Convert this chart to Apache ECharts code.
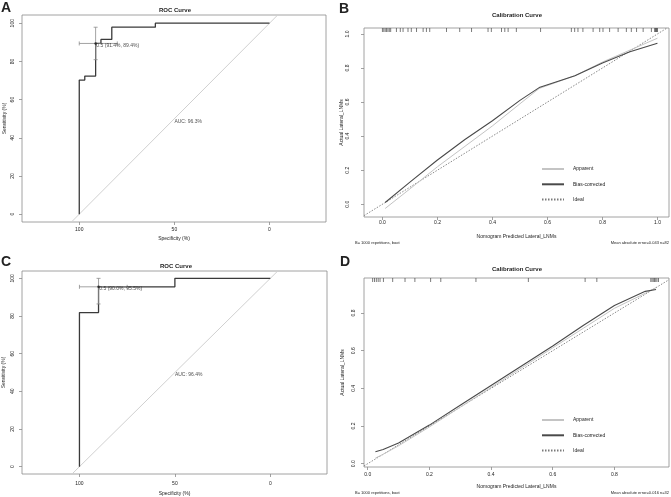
<!DOCTYPE html>
<html><head><meta charset="utf-8">
<script src="https://cdn.jsdelivr.net/npm/echarts@6/dist/echarts.min.js"></script>
<style>html,body{margin:0;padding:0;background:#fff}#c{width:671px;height:497px}</style>
</head><body><div id="c"></div>
<script>
// ---------- DATA ----------
// Panel A ROC (specificity %, sensitivity %)
const rocA_spec = [100, 100, 97.1, 97.1, 91.4, 91.4, 88.6, 88.6, 82.9, 82.9, 60, 60, 0];
const rocA_sens = [0, 70.2, 70.2, 72.3, 72.3, 89.4, 89.4, 91.5, 91.5, 97.9, 97.9, 100, 100];
const thrA = [91.4, 89.4];          // threshold point (spec, sens)
const thrA_specCI = [80, 100];
const thrA_sensCI = [80.9, 97.9];
const thrA_label = '0.5 (91.4%, 89.4%)';
const aucA_label = 'AUC: 96.3%';

// Panel C ROC
const rocC_spec = [100, 100, 90, 90, 50, 50, 0];
const rocC_sens = [0, 81.8, 81.8, 95.5, 95.5, 100, 100];
const thrC = [90, 95.5];
const thrC_specCI = [75, 100];
const thrC_sensCI = [86.4, 100];
const thrC_label = '0.5 (90.0%, 95.5%)';
const aucC_label = 'AUC: 96.4%';

const rocTicksX = [0, 50, 100];
const rocTicksY = [0, 20, 40, 60, 80, 100];

// Panel B calibration
const calB_x        = [0.01, 0.1, 0.2, 0.3, 0.4, 0.5, 0.57, 0.7, 0.8, 0.9, 1.0];
const calB_apparent = [-0.025, 0.09, 0.22, 0.34, 0.46, 0.59, 0.68, 0.755, 0.835, 0.905, 0.975];
const calB_bias     = [0.01, 0.13, 0.26, 0.38, 0.49, 0.61, 0.685, 0.755, 0.83, 0.895, 0.945];
const rugB = [0.0, 0.005, 0.01, 0.015, 0.02, 0.025, 0.03, 0.051, 0.065, 0.075, 0.093, 0.105, 0.124, 0.148, 0.16, 0.172,
  0.233, 0.281, 0.324, 0.384, 0.396, 0.433, 0.445, 0.457, 0.487, 0.575, 0.687, 0.699, 0.711, 0.729, 0.766, 0.79,
  0.802, 0.826, 0.857, 0.887, 0.905, 0.924, 0.948, 0.978, 0.99, 0.992, 0.994, 0.996, 0.998, 1.0];
const calTicksB = [0, 0.2, 0.4, 0.6, 0.8, 1.0];
const subB_left = 'B= 1000 repetitions, boot';
const subB_right = 'Mean absolute error=0.043 n=82';

// Panel D calibration
const calD_x        = [0.025, 0.05, 0.1, 0.2, 0.3, 0.4, 0.5, 0.6, 0.7, 0.8, 0.9, 0.935];
const calD_apparent = [0.03, 0.05, 0.095, 0.195, 0.3, 0.405, 0.51, 0.615, 0.72, 0.825, 0.905, 0.935];
const calD_bias     = [0.063, 0.075, 0.11, 0.205, 0.31, 0.415, 0.52, 0.625, 0.735, 0.84, 0.915, 0.925];
const rugD = [0.016, 0.022, 0.028, 0.034, 0.04, 0.051, 0.081, 0.121, 0.153, 0.204, 0.237, 0.351, 0.521, 0.705, 0.743,
  0.918, 0.922, 0.926, 0.93, 0.934, 0.938, 0.943];
const calTicksD = [0, 0.2, 0.4, 0.6, 0.8];
const subD_left = 'B= 1000 repetitions, boot';
const subD_right = 'Mean absolute error=0.016 n=32';

const legendNames = ['Apparent', 'Bias-corrected', 'Ideal'];

// ---------- CHART ----------
const FONT = '"Liberation Sans", Arial, Helvetica, sans-serif';
const TXT = '#222';
const BOX = '#8a8a8a';
const zip = (a, b) => a.map((v, i) => [v, b[i]]);

const rocX = { min: -29.7, max: 130.1 };
const rocYA = { min: -4.1, max: 104.3 };
const rocYC = { min: -3.9, max: 103.9 };
const calXB = { min: -0.067, max: 1.042 }, calYB = { min: -0.075, max: 1.035 };
const calXD = { min: -0.012, max: 0.977 }, calYD = { min: -0.0175, max: 0.986 };

function xAx(grid, rng, ticks, inverse, name, margin, nameGap, fmt) {
  return {
    gridIndex: grid, type: 'value', min: rng.min, max: rng.max, inverse: inverse, position: 'bottom',
    axisLine: { show: false, onZero: false }, splitLine: { show: false },
    axisTick: { show: true, customValues: ticks, length: 3, lineStyle: { color: BOX, width: 0.8 } },
    axisLabel: { customValues: ticks, fontSize: 5, fontFamily: FONT, color: TXT, margin: margin, formatter: fmt },
    name: name, nameLocation: 'middle', nameGap: nameGap,
    nameTextStyle: { fontSize: 5, fontFamily: FONT, color: TXT }
  };
}
function yAx(grid, rng, ticks, name, margin, nameGap, fmt) {
  return {
    gridIndex: grid, type: 'value', min: rng.min, max: rng.max, position: 'left',
    axisLine: { show: false, onZero: false }, splitLine: { show: false },
    axisTick: { show: true, customValues: ticks, length: 3, lineStyle: { color: BOX, width: 0.8 } },
    axisLabel: { customValues: ticks, fontSize: 5, fontFamily: FONT, color: TXT, margin: margin, rotate: 90,
      align: 'center', verticalAlign: 'bottom', formatter: fmt },
    name: name, nameLocation: 'middle', nameGap: nameGap, nameRotate: 90,
    nameTextStyle: { fontSize: 5, fontFamily: FONT, color: TXT }
  };
}
const f1 = v => Number(v).toFixed(1);
const f0 = v => String(Math.round(v));

function rocSeries(idx, spec, sens, thr, specCI, sensCI, thrLabel, aucLabel, xr, yr) {
  const diagLo = Math.min(xr.max, 100 - yr.min);
  const diagHi = Math.max(xr.min, 100 - yr.max);
  return [
    { type: 'line', xAxisIndex: idx, yAxisIndex: idx, silent: true, symbol: 'none',
      data: [[diagLo, 100 - diagLo], [diagHi, 100 - diagHi]],
      lineStyle: { color: '#d0d0d0', width: 1 }, z: 1 },
    { type: 'line', xAxisIndex: idx, yAxisIndex: idx, silent: true, symbol: 'none',
      data: zip(spec, sens), lineStyle: { color: '#3a3a3a', width: 1.3 }, z: 3 },
    { type: 'custom', xAxisIndex: idx, yAxisIndex: idx, silent: true, z: 4,
      data: [[thr[0], thr[1], specCI[0], specCI[1], sensCI[0], sensCI[1]]],
      renderItem: function (params, api) {
        const c = api.coord([api.value(0), api.value(1)]);
        const xl = api.coord([api.value(2), api.value(1)]);
        const xh = api.coord([api.value(3), api.value(1)]);
        const yl = api.coord([api.value(0), api.value(4)]);
        const yh = api.coord([api.value(0), api.value(5)]);
        const st = { stroke: '#8c8c8c', lineWidth: 0.8 };
        const cap = 2;
        return { type: 'group', children: [
          { type: 'line', shape: { x1: xl[0], y1: c[1], x2: xh[0], y2: c[1] }, style: st },
          { type: 'line', shape: { x1: xl[0], y1: c[1] - cap, x2: xl[0], y2: c[1] + cap }, style: st },
          { type: 'line', shape: { x1: xh[0], y1: c[1] - cap, x2: xh[0], y2: c[1] + cap }, style: st },
          { type: 'line', shape: { x1: c[0], y1: yl[1], x2: c[0], y2: yh[1] }, style: st },
          { type: 'line', shape: { x1: c[0] - cap, y1: yl[1], x2: c[0] + cap, y2: yl[1] }, style: st },
          { type: 'line', shape: { x1: c[0] - cap, y1: yh[1], x2: c[0] + cap, y2: yh[1] }, style: st }
        ]};
      } },
    { type: 'scatter', xAxisIndex: idx, yAxisIndex: idx, silent: true, z: 5,
      data: [thr], symbolSize: 2.5, itemStyle: { color: '#111' },
      label: { show: true, formatter: thrLabel, position: [2, 3.5], align: 'left', verticalAlign: 'middle',
        fontSize: 5, fontFamily: FONT, color: TXT } },
    { type: 'scatter', xAxisIndex: idx, yAxisIndex: idx, silent: true, z: 5,
      data: [[50, 50]], symbolSize: 0,
      label: { show: true, formatter: aucLabel, position: [0, 0], align: 'left', verticalAlign: 'top',
        fontSize: 5, fontFamily: FONT, color: TXT } }
  ];
}

function calSeries(idx, xs, app, bias, rug, xr, yr) {
  const lo = Math.max(xr.min, yr.min), hi = Math.min(xr.max, yr.max);
  return [
    { name: 'Apparent', type: 'line', xAxisIndex: idx, yAxisIndex: idx, silent: true, symbol: 'none',
      data: zip(xs, app), lineStyle: { color: '#c4c4c4', width: 1 }, itemStyle: { color: '#c4c4c4' }, z: 2 },
    { name: 'Bias-corrected', type: 'line', xAxisIndex: idx, yAxisIndex: idx, silent: true, symbol: 'none',
      data: zip(xs, bias), lineStyle: { color: '#4a4a4a', width: 1.1 }, itemStyle: { color: '#4a4a4a' }, z: 3 },
    { name: 'Ideal', type: 'line', xAxisIndex: idx, yAxisIndex: idx, silent: true, symbol: 'none',
      data: [[lo, lo], [hi, hi]], lineStyle: { color: '#7a7a7a', width: 0.9, type: [1.5, 1.5] },
      itemStyle: { color: '#7a7a7a' }, z: 1 },
    { type: 'custom', xAxisIndex: idx, yAxisIndex: idx, silent: true, z: 4,
      data: rug.map(v => [v, yr.max]),
      renderItem: function (params, api) {
        const p = api.coord([api.value(0), api.value(1)]);
        return { type: 'line', shape: { x1: p[0], y1: p[1], x2: p[0], y2: p[1] + 4 },
          style: { stroke: '#444', lineWidth: 0.7 } };
      } }
  ];
}

function txt(x, y, s, size, bold, align) {
  return { type: 'text', x: x, y: y, silent: true,
    style: { text: s, fill: TXT, font: (bold ? 'bold ' : '') + size + 'px ' + FONT,
      align: align || 'center', verticalAlign: 'middle' } };
}

const legendBase = { data: legendNames, orient: 'vertical', left: 541, padding: 0, itemWidth: 22, itemHeight: 6, itemGap: 10.3,
  selectedMode: false, itemStyle: { opacity: 0 },
  textStyle: { fontSize: 5, fontFamily: FONT, color: TXT, padding: [0, 0, 0, 4] } };

const option = {
  animation: false,
  backgroundColor: '#fff',
  grid: [
    { left: 22, top: 15, width: 304, height: 207, show: true, borderColor: BOX, borderWidth: 0.8, backgroundColor: 'transparent' },
    { left: 364, top: 28, width: 305, height: 189, show: true, borderColor: BOX, borderWidth: 0.8, backgroundColor: 'transparent' },
    { left: 22, top: 271, width: 305, height: 204, show: true, borderColor: BOX, borderWidth: 0.8, backgroundColor: 'transparent' },
    { left: 364, top: 278, width: 305, height: 189, show: true, borderColor: BOX, borderWidth: 0.8, backgroundColor: 'transparent' }
  ],
  xAxis: [
    xAx(0, rocX, rocTicksX, true, 'Specificity (%)', 5.5, 14.5, f0),
    xAx(1, calXB, calTicksB, false, 'Nomogram Predicted Lateral_LNMs', 3, 17, f1),
    xAx(2, rocX, rocTicksX, true, 'Specificity (%)', 7.5, 17, f0),
    xAx(3, calXD, calTicksD, false, 'Nomogram Predicted Lateral_LNMs', 5, 17.5, f1)
  ],
  yAxis: [
    yAx(0, rocYA, rocTicksY, 'Sensitivity (%)', 6.5, 14.5, f0),
    yAx(1, calYB, calTicksB, 'Actual Lateral_LNMs', 14, 19.5, f1),
    yAx(2, rocYC, rocTicksY, 'Sensitivity (%)', 6.5, 15.5, f0),
    yAx(3, calYD, calTicksD, 'Actual Lateral_LNMs', 8, 18.5, f1)
  ],
  legend: [
    Object.assign({}, legendBase, { top: 166.5 }),
    Object.assign({}, legendBase, { top: 417.5 })
  ],
  graphic: [
    txt(6, 8, 'A', 14, true),
    txt(344, 9, 'B', 14, true),
    txt(6, 262, 'C', 14, true),
    txt(345, 262, 'D', 14, true),
    txt(175, 10, 'ROC Curve', 6, true),
    txt(176, 266, 'ROC Curve', 6, true),
    txt(517, 15, 'Calibration Curve', 6, true),
    txt(517, 269, 'Calibration Curve', 6, true),
    txt(355, 243, subB_left, 4, false, 'left'),
    txt(669, 243, subB_right, 4, false, 'right'),
    txt(355, 493, subD_left, 4, false, 'left'),
    txt(669, 493, subD_right, 4, false, 'right')
  ],
  series: [].concat(
    rocSeries(0, rocA_spec, rocA_sens, thrA, thrA_specCI, thrA_sensCI, thrA_label, aucA_label, rocX, rocYA),
    calSeries(1, calB_x, calB_apparent, calB_bias, rugB, calXB, calYB),
    rocSeries(2, rocC_spec, rocC_sens, thrC, thrC_specCI, thrC_sensCI, thrC_label, aucC_label, rocX, rocYC),
    calSeries(3, calD_x, calD_apparent, calD_bias, rugD, calXD, calYD)
  )
};
const chart = echarts.init(document.getElementById('c'));
chart.setOption(option);
</script>
</body></html>
